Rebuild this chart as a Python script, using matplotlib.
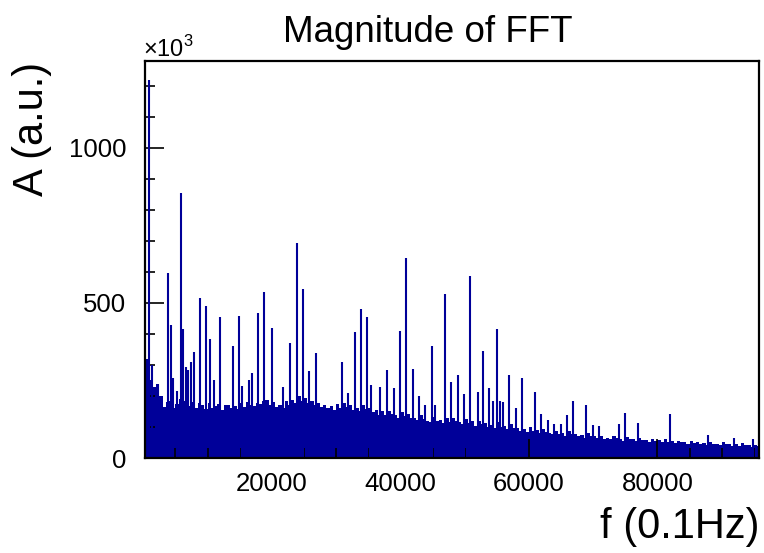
import numpy as np
import matplotlib
matplotlib.use("Agg")
import matplotlib.pyplot as plt
from matplotlib.ticker import MultipleLocator

plt.rcParams["font.family"] = ["Liberation Sans", "DejaVu Sans"]
plt.rcParams["mathtext.fontset"] = "custom"
plt.rcParams["mathtext.rm"] = "Liberation Sans"

# noise floor, one value per 500 bins (units of 10^3)
bin_width = 500
noise_top = [310, 290, 250, 230, 240, 200, 165, 180, 185, 160,
             175, 190, 185, 170, 168, 182, 160, 176, 172, 158,
             178, 162, 168, 175, 155, 170, 172, 160, 166, 158,
             176, 165, 182, 170, 168, 178, 174, 185, 188, 170,
             180, 165, 170, 160, 184, 172, 186, 178, 200, 185,
             192, 176, 185, 170, 178, 165, 172, 160, 168, 155,
             175, 160, 178, 165, 170, 155, 162, 150, 172, 158,
             160, 148, 155, 140, 150, 138, 152, 142, 138, 130,
             148, 135, 142, 130, 128, 122, 138, 126, 120, 115,
             132, 118, 122, 112, 128, 116, 130, 118, 115, 108,
             125, 112, 118, 104, 120, 108, 112, 100, 106, 98,
             115, 100, 104, 95, 110, 98, 96, 88, 94, 85,
             100, 88, 90, 80, 94, 84, 82, 76, 88, 78,
             80, 72, 86, 76, 78, 70, 74, 66, 80, 70,
             72, 64, 70, 62, 66, 60, 72, 63, 62, 56,
             68, 60, 60, 54, 65, 57, 58, 52, 62, 55,
             57, 50, 60, 52, 54, 48, 56, 50, 52, 46,
             55, 48, 50, 45, 47, 42, 52, 45, 46, 41,
             50, 44, 46, 40, 44, 39, 47, 41, 42, 37,
             41, 38]

# spikes on top of the noise
peak_f = [500, 900, 1300, 2300, 3760, 4380, 4690, 5200, 5890, 6150,
          6700, 7000, 7390, 7910, 8840, 9780, 10350, 10920, 11900, 13930,
          14860, 15300, 16400, 16880, 17860, 18850, 19990, 21800, 22850, 23950,
          24920, 25800, 26940, 30890, 31900, 32960, 33900, 34880, 35450, 36850,
          37890, 39000, 39960, 40900, 41930, 42950, 43900, 44840, 45400, 46910,
          47900, 48980, 49920, 50850, 52000, 52870, 53860, 54400, 55000, 55500,
          56000, 56920, 58000, 58940, 60960, 61950, 62950, 63850, 65000, 65940,
          66880, 68900, 69900, 70850, 74000, 74920, 76990, 81920, 87940, 91930,
          94800]
peak_a = [320, 1218, 300, 240, 595, 430, 257, 215, 853, 414,
          294, 285, 310, 340, 516, 490, 382, 250, 453, 360,
          457, 231, 250, 274, 468, 536, 419, 230, 370, 694,
          543, 281, 339, 308, 211, 407, 481, 453, 235, 228,
          285, 226, 410, 643, 288, 200, 172, 362, 171, 528,
          245, 266, 205, 586, 214, 344, 227, 185, 417, 185,
          180, 266, 160, 258, 214, 143, 124, 110, 110, 138,
          183, 172, 106, 102, 109, 145, 113, 141, 75, 66,
          60]

color = "#000099"

fig = plt.figure(figsize=(7.64, 5.53), dpi=100)
ax = fig.add_axes([144.5 / 764, 95 / 553, (759 - 144.5) / 764, (492.3 - 95) / 553])

edges = np.arange(len(noise_top) + 1) * bin_width
ax.stairs(noise_top, edges, fill=True, color=color, linewidth=0)
ax.vlines(peak_f, 0, peak_a, color=color, linewidth=1.5)

ax.set_xlim(180, 95800)
ax.set_ylim(0, 1280)

ax.xaxis.set_major_locator(MultipleLocator(20000))
ax.xaxis.set_minor_locator(MultipleLocator(5000))
ax.yaxis.set_major_locator(MultipleLocator(500))
ax.yaxis.set_minor_locator(MultipleLocator(100))

ax.tick_params(which="both", direction="in", top=False, right=False, width=1.2)
ax.tick_params(which="major", length=14, labelsize=18.5)
ax.tick_params(which="minor", length=7)
ax.tick_params(axis="y", pad=13)
ax.tick_params(axis="x", pad=10)
ax.set_xticks([20000, 40000, 60000, 80000])
for s in ax.spines.values():
    s.set_linewidth(1.6)

fig.text(428 / 764, 1 - 42 / 553, "Magnitude of FFT", ha="center", va="baseline", fontsize=26.5)
fig.text(52 / 764, 1 - 62 / 553, "A (a.u.)", rotation=90, ha="right", va="top",
         rotation_mode="default", fontsize=30)
fig.text(760 / 764, 1 - 538 / 553, "f (0.1Hz)", ha="right", va="baseline", fontsize=30)
fig.text(143 / 764, 1 - 57 / 553, r"$\times10^{3}$", ha="left", va="baseline", fontsize=17)

fig.savefig("out.png", dpi=100)
